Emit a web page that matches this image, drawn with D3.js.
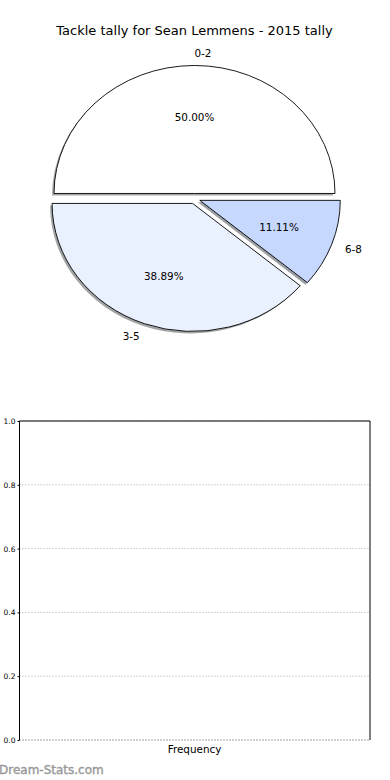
<!DOCTYPE html>
<html>
<head>
<meta charset="utf-8">
<script src="https://cdn.jsdelivr.net/npm/d3@7/dist/d3.min.js"></script>
<style>
  html, body { margin: 0; padding: 0; background: #fff; }
  svg { display: block; }
  text { font-family: "DejaVu Sans", sans-serif; fill: #000; }
</style>
</head>
<body>
<svg id="chart" width="390" height="780"></svg>
<script>
// ---- data ----
const title = "Tackle tally for Sean Lemmens - 2015 tally";
const categories = ["0-2", "3-5", "6-8"];
const percentages = [50.00, 38.89, 11.11];
const sliceColors = ["#ffffff", "#eaf1fe", "#c6d8fd"];
const explodeAmount = [0.04, 0.04, 0.04];
const yTicks = [0.0, 0.2, 0.4, 0.6, 0.8, 1.0];
const xLabel = "Frequency";
const watermark = "Dream-Stats.com";

(function () {
const svg = d3.select("#chart");

// ---- title ----
svg.append("text")
  .attr("x", 194.5).attr("y", 30)
  .attr("text-anchor", "middle").attr("dominant-baseline", "central")
  .style("font-size", "13px")
  .text(title);

// ---- pie ----
const cx = 194.5, cy = 198.6, rx = 140.5, ry = 128;
const pie = d3.pie().sort(null).value(d => d)
  .startAngle(Math.PI / 2).endAngle(Math.PI / 2 - 2 * Math.PI);
const arcs = pie(percentages);
const arc = d3.arc().innerRadius(0).outerRadius(1);

const pieG = svg.append("g");
arcs.forEach((a, i) => {
  const mid = (a.startAngle + a.endAngle) / 2;
  const ux = Math.sin(mid), uy = -Math.cos(mid);
  const ox = cx + explodeAmount[i] * rx * ux;
  const oy = cy + explodeAmount[i] * ry * uy;
  const c = d3.rgb(sliceColors[i]);
  pieG.append("path")
    .attr("d", arc(a))
    .attr("transform", `translate(${ox - 2},${oy + 2}) scale(${rx},${ry})`)
    .attr("fill", d3.rgb(c.r * 0.3, c.g * 0.3, c.b * 0.3))
    .attr("fill-opacity", 0.5)
    .attr("stroke", "none");
  a._o = [ox, oy, ux, uy];
});
arcs.forEach((a, i) => {
  const [ox, oy, ux, uy] = a._o;
  pieG.append("path")
    .attr("d", arc(a))
    .attr("transform", `translate(${ox},${oy}) scale(${rx},${ry})`)
    .attr("fill", sliceColors[i])
    .attr("stroke", "#000")
    .attr("stroke-width", 0.9)
    .attr("vector-effect", "non-scaling-stroke")
    .attr("stroke-linejoin", "round");
  pieG.append("text")
    .attr("x", ox + 1.1 * rx * ux)
    .attr("y", oy + 1.1 * ry * uy)
    .attr("text-anchor", ux < -1e-9 ? "end" : "start")
    .attr("dominant-baseline", "central")
    .style("font-size", "10.4px")
    .text(categories[i]);
  pieG.append("text")
    .attr("x", ox + 0.6 * rx * ux)
    .attr("y", oy + 0.6 * ry * uy)
    .attr("text-anchor", "middle")
    .attr("dominant-baseline", "central")
    .style("font-size", "10.4px")
    .text(percentages[i].toFixed(2) + "%");
});

// ---- empty bar chart ----
const axLeft = 19.5, axRight = 370, axTop = 421, axBottom = 740;
const y = d3.scaleLinear().domain([0, 1]).range([axBottom, axTop]);

const ax = svg.append("g");
ax.selectAll("line.grid").data(yTicks).enter().append("line")
  .attr("x1", axLeft).attr("x2", axRight)
  .attr("y1", d => y(d)).attr("y2", d => y(d))
  .attr("stroke", d => d === 0 ? "#444" : "#aaa")
  .attr("stroke-width", 1)
  .attr("stroke-dasharray", "1,2");
ax.append("path")
  .attr("d", `M${axLeft},${axBottom}V${axTop}H${axRight}V${axBottom}`)
  .attr("fill", "none").attr("stroke", "#000").attr("stroke-width", 1);
const yAxis = d3.axisLeft(y).tickValues(yTicks).tickFormat(d3.format(".1f"))
  .tickSize(2).tickPadding(2);
const yg = ax.append("g").attr("transform", `translate(${axLeft},0)`).call(yAxis);
yg.select(".domain").remove();
yg.selectAll("text").style("font-size", "7.5px").style("font-family", "DejaVu Sans, sans-serif").attr("fill", "#000");
yg.selectAll("line").attr("stroke", "#000");

svg.append("text")
  .attr("x", 194.5).attr("y", 749)
  .attr("text-anchor", "middle").attr("dominant-baseline", "central")
  .style("font-size", "10.4px")
  .text(xLabel);

svg.append("text")
  .attr("x", -1).attr("y", 770)
  .attr("dominant-baseline", "central")
  .style("font-size", "12px")
  .style("fill", "#9a9a9a")
  .style("stroke", "#9a9a9a").style("stroke-width", 0.4)
  .text(watermark);
})();
</script>
</body>
</html>
